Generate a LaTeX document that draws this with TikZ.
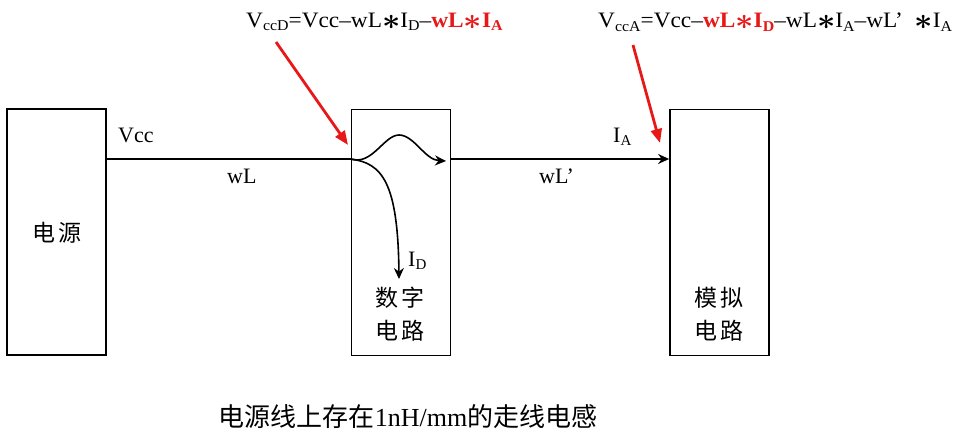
\documentclass[tikz,border=0pt]{standalone}
\usepackage{fontspec}
\setmainfont{Liberation Serif}
\newfontfamily\cjk{Noto Sans CJK SC}
\usetikzlibrary{arrows.meta}
\definecolor{myred}{RGB}{232,24,24}
\newcommand{\sbx}[1]{\raisebox{-0.35ex}{\fontsize{15}{15}\selectfont #1}}
\newcommand{\rb}[1]{\textcolor{myred}{\bfseries #1}}
\newcommand{\st}{\raisebox{-2pt}{\scalebox{1.45}{\boldmath$\ast$}}}
\newcommand{\gp}{\hspace{4pt}}
\begin{document}
\begin{tikzpicture}[x=1pt,y=-1pt,
  blk/.style={draw,line width=1.8pt,minimum width=99pt,minimum height=246pt,inner sep=0pt},
  lbl/.style={font=\fontsize{22}{22}\selectfont,inner sep=0pt},
  cj/.style={font=\cjk\fontsize{23}{33}\selectfont,inner sep=0pt,align=center},
  wire/.style={line width=1.6pt},
  redarr/.style={myred,line width=2.8pt,-{Triangle[length=14pt,width=11pt]}},
  tip/.style={-{Stealth[length=11pt,width=10pt]}}]
\useasboundingbox (0,0) rectangle (965,436);
\node[blk] (psu) at (56.5,232) {};
\node[blk] (dig) at (401,232.5) {};
\node[blk] (ana) at (719.5,232.5) {};
\node[cj] (psut) at (57,233) {电\gp 源};
\node[cj] (digt) at (400,314) {数\gp 字\\电\gp 路};
\node[cj] (anat) at (719,314) {模\gp 拟\\电\gp 路};
\coordinate (p0) at (psu.east |- 0,159);
\coordinate (d0) at (dig.west |- 0,159);
\coordinate (d1) at (dig.east |- 0,159);
\coordinate (a0) at (ana.west |- 0,159);
\coordinate (bumpend) at (446,161);
\coordinate (downend) at (399,279);
\draw[wire] (p0) -- (d0);
\draw[wire,tip] (d1) -- (a0);
\draw[wire,tip] (d0) .. controls (372,166) and (384,135) .. (399,135) .. controls (414,135) and (425,160) .. (bumpend);
\draw[wire,tip] (d0) .. controls (382,163) and (398,182) .. (downend);
\node[lbl,anchor=west] (vcc) at (118,135) {Vcc};
\node[lbl,anchor=west] (wl) at (227,176) {wL};
\node[lbl,anchor=west] (wlp) at (539,176) {wL’};
\node[lbl,anchor=west] (ia) at (613,137) {I\sbx{A}};
\node[lbl,anchor=west] (id) at (408,261) {I\sbx{D}};
\node[lbl,anchor=west] (fd) at (246,22) {\scalebox{1.06}[1]{V\sbx{ccD}=Vcc–wL\st I\sbx{D}–\rb{wL\st I\sbx{A}}}};
\node[lbl,anchor=west] (fa) at (598,22) {\scalebox{1.06}[1]{V\sbx{ccA}=Vcc–\rb{wL\st I\sbx{D}}–wL\st I\sbx{A}–wL’\ \ \st I\sbx{A}}};
\coordinate (r1) at (276,42);
\coordinate (r1e) at (348,145);
\coordinate (r2) at (633,45);
\coordinate (r2e) at (660,143);
\draw[redarr] (r1) -- (r1e);
\draw[redarr] (r2) -- (r2e);
\node[cj,font=\cjk\fontsize{26}{26}\selectfont] (cap) at (408,417) {电源线上存在\fontspec{Liberation Serif}1nH/mm\cjk 的走线电感};
\end{tikzpicture}
\end{document}
